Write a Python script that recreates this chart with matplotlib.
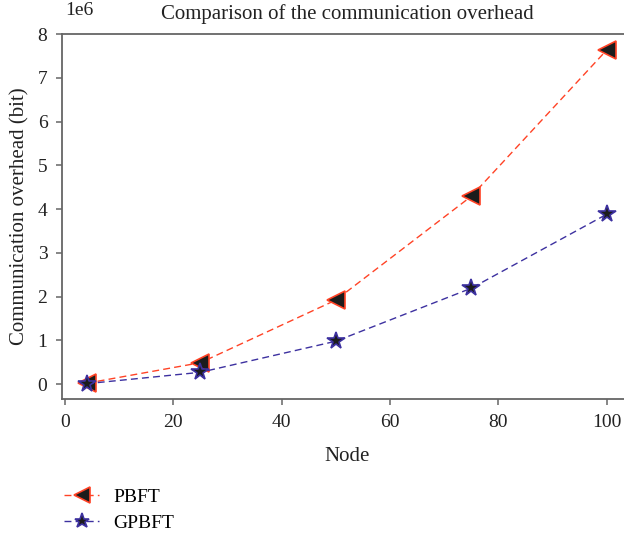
import matplotlib
matplotlib.use("Agg")
import matplotlib.pyplot as plt

nodes = [4, 25, 50, 75, 100]
pbft = [0.02e6, 0.49e6, 1.92e6, 4.29e6, 7.63e6]
gpbft = [0.01e6, 0.27e6, 0.98e6, 2.19e6, 3.88e6]
xticks = [0, 20, 40, 60, 80, 100]
yticks = [0, 1e6, 2e6, 3e6, 4e6, 5e6, 6e6, 7e6, 8e6]

plt.rcParams['font.family'] = ['Liberation Serif', 'DejaVu Serif']
plt.rcParams['font.size'] = 14

fig = plt.figure(figsize=(6.24, 5.35), dpi=100)
ax = fig.add_axes([0.0994, 0.2542, 0.9143, 0.6822])

ax.plot(nodes, pbft, linestyle=(0, (5, 3)), color='#ff4326', lw=1.0,
        marker='<', markersize=13, markerfacecolor='#1c1c1c',
        markeredgecolor='#ff4326', markeredgewidth=1.2, label='PBFT')
ax.plot(nodes, gpbft, linestyle=(0, (5, 3)), color='#3d31a0', lw=1.0,
        marker='*', markersize=13, markerfacecolor='#1c1c1c',
        markeredgecolor='#3d31a0', markeredgewidth=1.2, label='GPBFT')

ax.set_xlim(-0.55, 104.8)
ax.set_ylim(-0.34e6, 8.0e6)
ax.set_xticks(xticks)
ax.set_yticks(yticks)
ax.set_yticklabels(['0', '1', '2', '3', '4', '5', '6', '7', '8'])
ax.text(0.005, 1.04, '1e6', transform=ax.transAxes, fontsize=14,
        color='#222222', ha='left', va='bottom')

for s in ['left', 'bottom', 'top']:
    ax.spines[s].set_color('#666666')
    ax.spines[s].set_linewidth(1.3)
ax.spines['right'].set_visible(False)
ax.tick_params(direction='out', length=4.5, width=1.1, color='#666666',
               labelsize=14, labelcolor='#222222', pad=6)

ax.set_title('Comparison of the communication overhead', fontsize=15,
             color='#222222', pad=11)
ax.set_xlabel('Node', fontsize=15, color='#222222', labelpad=12)
ax.set_ylabel('Communication overhead (bit)', fontsize=15, color='#222222',
              labelpad=6)

fig.legend(loc='upper left', bbox_to_anchor=(0.075, 0.12), frameon=False,
           fontsize=14, handlelength=1.8, labelspacing=0.45,
           handletextpad=0.7, markerscale=0.85)

fig.savefig('out.png', dpi=100)
